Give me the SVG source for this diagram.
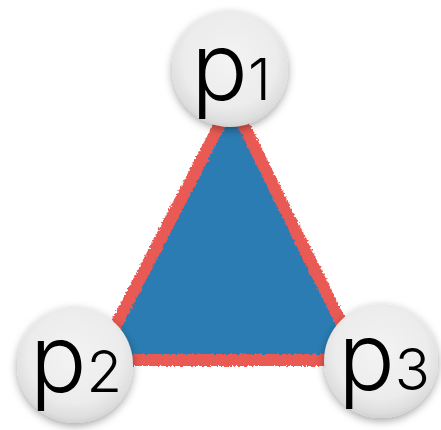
<svg xmlns="http://www.w3.org/2000/svg" width="441" height="430" viewBox="0 0 441 430">
  <defs>
    <radialGradient id="ball" cx="50%" cy="42%" r="58%">
      <stop offset="0" stop-color="#f3f3f3"/>
      <stop offset="0.7" stop-color="#ececec"/>
      <stop offset="0.92" stop-color="#dedede"/>
      <stop offset="1" stop-color="#d2d2d2"/>
    </radialGradient>
    <filter id="shadow" x="-30%" y="-30%" width="160%" height="170%">
      <feDropShadow dx="0" dy="3" stdDeviation="4" flood-color="#000" flood-opacity="0.35"/>
    </filter>
    <filter id="rough" x="-10%" y="-10%" width="120%" height="120%">
      <feTurbulence type="fractalNoise" baseFrequency="0.35" numOctaves="2" seed="3" result="n"/>
      <feDisplacementMap in="SourceGraphic" in2="n" scale="4" xChannelSelector="R" yChannelSelector="G"/>
    </filter>
    <filter id="rough2" x="-10%" y="-10%" width="120%" height="120%">
      <feTurbulence type="fractalNoise" baseFrequency="0.5" numOctaves="2" seed="7" result="n"/>
      <feDisplacementMap in="SourceGraphic" in2="n" scale="5" xChannelSelector="R" yChannelSelector="G"/>
    </filter>
  </defs>
  <style>
    .ball { fill: url(#ball); filter: url(#shadow); }
    .lbl { font-family: Inter, "Open Sans", Lato, "Liberation Sans", sans-serif; font-weight: 300; fill: #000; text-anchor: middle; }
    .edge { fill: #e85a52; filter: url(#rough2); }
    .face { fill: #2b7bb2; filter: url(#rough); }
  </style>
  <g id="connectors">
    <polygon class="edge" points="232,88 88,366 369,366"/>
    <polygon class="face" points="231.7,114.6 107.8,354 349.7,354"/>
  </g>
  <g id="p1">
    <circle class="ball" cx="230" cy="69" r="58"/>
    <text class="lbl" x="231" y="100" font-size="94">p<tspan font-size="58">1</tspan></text>
  </g>
  <g id="p2">
    <circle class="ball" cx="75" cy="365" r="58"/>
    <text class="lbl" x="76" y="392" font-size="94">p<tspan font-size="58">2</tspan></text>
  </g>
  <g id="p3">
    <circle class="ball" cx="381" cy="361" r="57"/>
    <text class="lbl" x="384" y="390" font-size="94">p<tspan font-size="58">3</tspan></text>
  </g>
</svg>
